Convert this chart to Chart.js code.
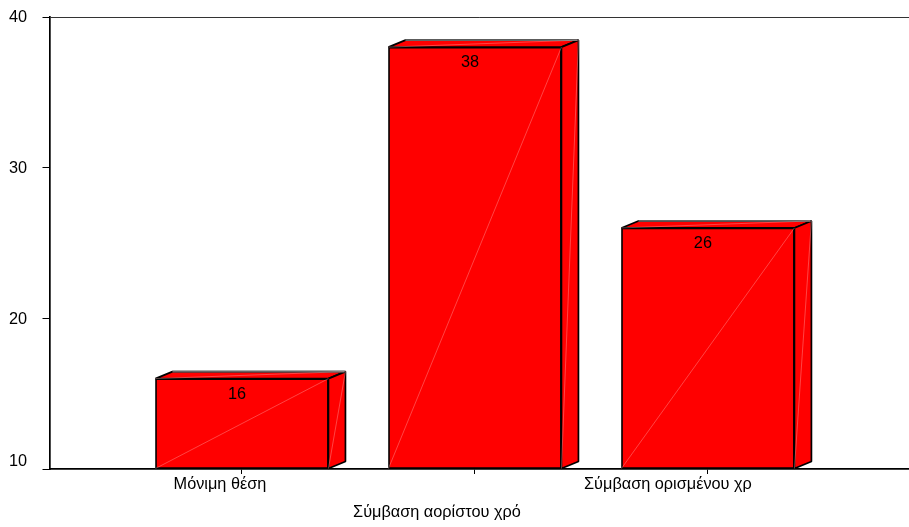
<!DOCTYPE html>
<html>
<head>
<meta charset="utf-8">
<style>
  html, body { margin: 0; padding: 0; background: #fff; }
  canvas { display: block; }
</style>
<script src="https://cdn.jsdelivr.net/npm/chart.js@4"></script>
</head>
<body>
<canvas id="contractChart" width="909" height="527"></canvas>
<script>
//Chart data
const categories = ["Μόνιμη θέση", "Σύμβαση αορίστου χρό", "Σύμβαση ορισμένου χρ"];
const positions = [1, 2, 3];
const values = [16, 38, 26];
const yTicks = [10, 20, 30, 40];

const FONT = '16.3px "Liberation Sans"';

//Offsets of the labels as the original program placed them
const xLabelShift = [-22, -38, -40];
const xLabelY = [485, 513, 485];

//Draws the 3d faces, the pale seams, the value and axis labels
const boxPlugin = {
  id: "boxPlugin",
  afterDatasetsDraw(chart) {
    const ctx = chart.ctx;
    const dx = 17, dy = 7;
    ctx.save();
    ctx.lineJoin = "bevel";
    chart.getDatasetMeta(0).data.forEach((bar, i) => {
      const l = bar.x - bar.width / 2, r = bar.x + bar.width / 2, t = bar.y, b = bar.base;
      const faces = [
        [[l, t], [l + dx, t - dy], [r + dx, t - dy], [r, t]],
        [[r, t], [r + dx, t - dy], [r + dx, b - dy], [r, b]]
      ];
      faces.forEach(f => {
        ctx.beginPath();
        f.forEach((p, k) => k ? ctx.lineTo(p[0], p[1]) : ctx.moveTo(p[0], p[1]));
        ctx.closePath();
        ctx.fillStyle = "#ff0000";
        ctx.fill();
        ctx.strokeStyle = "#000";
        ctx.lineWidth = 1.7;
        ctx.stroke();
      });
      //back edge of the top is lighter
      ctx.beginPath();
      ctx.moveTo(l + dx, t - dy);
      ctx.lineTo(r + dx - 1, t - dy);
      ctx.strokeStyle = "#666";
      ctx.lineWidth = 1.7;
      ctx.stroke();
      //seams
      ctx.strokeStyle = "rgba(255,190,190,0.6)";
      ctx.lineWidth = 0.6;
      [[l, b, r, t], [r, b, r + dx, t - dy], [l, t, r + dx, t - dy]].forEach(s => {
        ctx.beginPath();
        ctx.moveTo(s[0], s[1]);
        ctx.lineTo(s[2], s[3]);
        ctx.stroke();
      });
      //value label
      ctx.fillStyle = "#000";
      ctx.font = FONT;
      ctx.textAlign = "center";
      ctx.textBaseline = "middle";
      ctx.fillText(values[i], bar.x - 5, t + 15.5);
    });

    ctx.fillStyle = "#000";
    ctx.font = FONT;
    //x labels
    ctx.textAlign = "center";
    ctx.textBaseline = "middle";
    chart.scales.x.ticks.forEach((tick, i) => {
      ctx.fillText(categories[i], chart.scales.x.getPixelForValue(tick.value) + xLabelShift[i], xLabelY[i]);
    });
    //y labels
    ctx.textAlign = "right";
    chart.scales.y.ticks.forEach(tick => {
      const shift = tick.value === yTicks[0] ? -7 : 1;
      ctx.fillText(tick.value, 27, chart.scales.y.getPixelForValue(tick.value) + shift);
    });
    ctx.restore();
  }
};

new Chart(document.querySelector("#contractChart"), {
  type: "bar",
  data: {
    datasets: [{
      data: positions.map((p, i) => ({ x: p, y: values[i] })),
      base: yTicks[0],
      backgroundColor: "#ff0000",
      borderColor: "#000",
      borderWidth: 1.7,
      borderSkipped: false,
      barThickness: 173
    }]
  },
  options: {
    responsive: false,
    animation: false,
    layout: { padding: { top: 17, right: 0, left: 0, bottom: 0 } },
    plugins: { legend: { display: false }, tooltip: { enabled: false } },
    scales: {
      x: {
        type: "linear",
        offset: false,
        min: 0.174,
        max: 3.863,
        afterBuildTicks: s => { s.ticks = positions.map(p => ({ value: p })); },
        afterFit: s => { s.height = 58; },
        ticks: { display: false },
        grid: { offset: false, drawOnChartArea: false, tickLength: 5, tickColor: "#000", tickWidth: 1 },
        border: { color: "#000", width: 1.7 }
      },
      y: {
        min: yTicks[0],
        max: yTicks[yTicks.length - 1],
        afterBuildTicks: s => { s.ticks = yTicks.map(v => ({ value: v })); },
        afterFit: s => { s.width = 49.5; },
        ticks: { display: false },
        grid: {
          tickLength: 7,
          tickColor: "#000",
          tickWidth: 1,
          color: c => c.tick && c.tick.value === 40 ? "#333" : "transparent",
          lineWidth: 1
        },
        border: { color: "#000", width: 1.7 }
      }
    }
  },
  plugins: [boxPlugin]
});
</script>
</body>
</html>
